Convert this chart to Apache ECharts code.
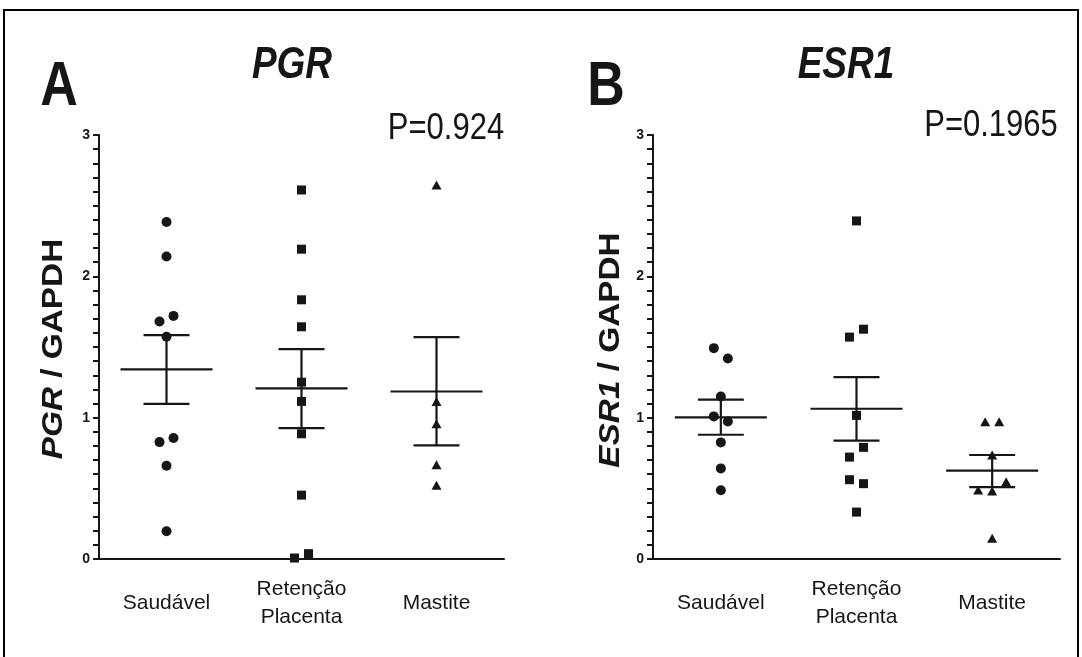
<!DOCTYPE html>
<html>
<head>
<meta charset="utf-8">
<script src="https://cdn.jsdelivr.net/npm/echarts@6/dist/echarts.min.js"></script>
<style>
html,body{margin:0;padding:0;background:#fff;}
#c{width:1082px;height:657px;}
</style>
</head>
<body>
<div id="c"></div>
<script>
// ---- data ----
const categories = ['Saudável', 'Retenção\nPlacenta', 'Mastite'];
const yTickLabels = ['0', '1', '2', '3'];

// Panel A : PGR / GAPDH
const pgrSaudavel = [2.385, 2.14, 1.72, 1.68, 1.572, 0.856, 0.827, 0.66, 0.196];
const pgrRetencao = [2.611, 2.192, 1.834, 1.643, 1.251, 1.115, 0.886, 0.452, 0.038, 0.007];
const pgrMastite = [2.647, 1.115, 0.957, 0.667, 0.521];
const pgrMean = [1.341, 1.207, 1.185];
const pgrSemLow = [1.098, 0.926, 0.804];
const pgrSemHigh = [1.584, 1.485, 1.570];

// Panel B : ESR1 / GAPDH
const esrSaudavel = [1.492, 1.419, 1.150, 1.009, 0.973, 0.825, 0.641, 0.486];
const esrRetencao = [2.392, 1.626, 1.570, 1.016, 0.790, 0.721, 0.561, 0.533, 0.332];
const esrMastite = [0.971, 0.971, 0.736, 0.547, 0.488, 0.481, 0.146];
const esrMean = [1.002, 1.063, 0.625];
const esrSemLow = [0.879, 0.837, 0.509];
const esrSemHigh = [1.127, 1.287, 0.736];

// horizontal scatter (jitter) direction of each point, in steps
const pgrSaudavelJit = [0, 0, 1, -1, 0, 1, -1, 0, 0];
const pgrRetencaoJit = [0, 0, 0, 0, 0, 0, 0, 0, 1, -1];
const pgrMastiteJit = [0, 0, 0, 0, 0];
const esrSaudavelJit = [-1, 1, 0, -1, 1, 0, 0, 0];
const esrRetencaoJit = [0, 1, -1, 0, 1, -1, -1, 1, 0];
const esrMastiteJit = [-1, 1, 0, 2, -2, 0, 0];

const pValueA = 'P=0.924';
const pValueB = 'P=0.1965';

// ---- styles ----
const INK = '#161616';
const FONT = '"Liberation Sans", Arial, Helvetica, sans-serif';
const JIT = 7;

function pts(cat, vals, jit) {
  return vals.map((v, i) => ({ value: [cat, v], symbolOffset: [jit[i] * JIT, 0] }));
}
function scatter(idx, cat, vals, jit, symbol, size) {
  return {
    type: 'scatter', xAxisIndex: idx, yAxisIndex: idx,
    symbol: symbol, symbolSize: size,
    itemStyle: { color: INK, opacity: 1 },
    data: pts(cat, vals, jit), z: 3, silent: true
  };
}
function errBars(idx, mean, lo, hi) {
  return {
    type: 'custom', xAxisIndex: idx, yAxisIndex: idx, silent: true, z: 4,
    encode: { x: 0, y: [1, 2, 3] },
    data: mean.map((m, i) => [i, m, lo[i], hi[i]]),
    renderItem: function (params, api) {
      const c = api.coord([api.value(0), api.value(1)]);
      const l = api.coord([api.value(0), api.value(2)]);
      const h = api.coord([api.value(0), api.value(3)]);
      const st = { stroke: INK, lineWidth: 2.2 };
      return {
        type: 'group', children: [
          { type: 'line', shape: { x1: c[0] - 46, y1: c[1], x2: c[0] + 46, y2: c[1] }, style: st },
          { type: 'line', shape: { x1: c[0], y1: h[1], x2: c[0], y2: l[1] }, style: st },
          { type: 'line', shape: { x1: c[0] - 23, y1: h[1], x2: c[0] + 23, y2: h[1] }, style: st },
          { type: 'line', shape: { x1: c[0] - 23, y1: l[1], x2: c[0] + 23, y2: l[1] }, style: st }
        ]
      };
    }
  };
}
function xAx(idx) {
  return {
    type: 'category', gridIndex: idx, data: categories, boundaryGap: true,
    axisLine: { lineStyle: { color: INK, width: 2 } },
    axisTick: { alignWithLabel: true, length: 7, lineStyle: { color: INK, width: 2 } },
    axisLabel: { color: INK, fontFamily: FONT, fontSize: 21, margin: 44, verticalAlign: 'middle', lineHeight: 28, align: 'center' },
    splitLine: { show: false }
  };
}
function yAx(idx) {
  return {
    type: 'value', gridIndex: idx, min: 0, max: 3, interval: 1,
    axisLine: { show: true, lineStyle: { color: INK, width: 2 } },
    axisTick: { show: true, length: 6, lineStyle: { color: INK, width: 2 } },
    minorTick: { show: true, splitNumber: 10, length: 6, lineStyle: { color: INK, width: 2 } },
    axisLabel: { color: INK, fontFamily: FONT, fontSize: 14, fontWeight: 'bold', margin: 9,
      formatter: v => yTickLabels[Math.round(v)] },
    splitLine: { show: false }, minorSplitLine: { show: false }
  };
}
function txt(x, y, text, size, opts) {
  opts = opts || {};
  return {
    type: 'text', x: x, y: y, rotation: opts.rot || 0,
    scaleX: opts.sx || 1, scaleY: opts.sy || 1, silent: true, z: 10,
    style: {
      x: 0, y: 0, text: text, fill: INK,
      font: (opts.italic ? 'italic ' : '') + (opts.bold ? 'bold ' : '') + size + 'px ' + FONT,
      textAlign: 'center', textVerticalAlign: 'middle', align: 'center', verticalAlign: 'middle',
      rich: opts.rich
    }
  };
}
const richY = {
  i: { fontStyle: 'italic', fontWeight: 'bold', fontSize: 29, fontFamily: FONT, fill: INK, color: INK },
  n: { fontWeight: 'bold', fontSize: 29, fontFamily: FONT, fill: INK, color: INK }
};

const chart = echarts.init(document.getElementById('c'), null, { renderer: 'canvas' });
chart.setOption({
  backgroundColor: '#ffffff',
  animation: false,
  grid: [
    { left: 99, top: 135, width: 405, height: 424 },
    { left: 653, top: 135, width: 407, height: 424 }
  ],
  xAxis: [xAx(0), xAx(1)],
  yAxis: [yAx(0), yAx(1)],
  series: [
    scatter(0, 0, pgrSaudavel, pgrSaudavelJit, 'circle', 10),
    scatter(0, 1, pgrRetencao, pgrRetencaoJit, 'rect', 9),
    scatter(0, 2, pgrMastite, pgrMastiteJit, 'triangle', [10, 9]),
    errBars(0, pgrMean, pgrSemLow, pgrSemHigh),
    scatter(1, 0, esrSaudavel, esrSaudavelJit, 'circle', 10),
    scatter(1, 1, esrRetencao, esrRetencaoJit, 'rect', 9),
    scatter(1, 2, esrMastite, esrMastiteJit, 'triangle', [10, 9]),
    errBars(1, esrMean, esrSemLow, esrSemHigh)
  ],
  graphic: [
    { type: 'rect', silent: true, shape: { x: 4, y: 10, width: 1074, height: 700 },
      style: { fill: 'none', stroke: '#000', lineWidth: 2 } },
    txt(59, 88, 'A', 52, { bold: true, sy: 1.2 }),
    txt(606, 88, 'B', 52, { bold: true, sy: 1.2 }),
    txt(292, 66, 'PGR', 37, { bold: true, italic: true, sy: 1.2 }),
    txt(846, 66, 'ESR1', 37, { bold: true, italic: true, sy: 1.2 }),
    txt(446, 129, pValueA, 31, { sy: 1.2 }),
    txt(991, 126, pValueB, 31, { sy: 1.2 }),
    txt(54, 349, '{i|PGR}{n| / GAPDH}', 29, { bold: true, rot: Math.PI / 2, sx: 1.15, rich: richY }),
    txt(611, 350, '{i|ESR1}{n| / GAPDH}', 29, { bold: true, rot: Math.PI / 2, sx: 1.15, rich: richY })
  ]
});
</script>
</body>
</html>
